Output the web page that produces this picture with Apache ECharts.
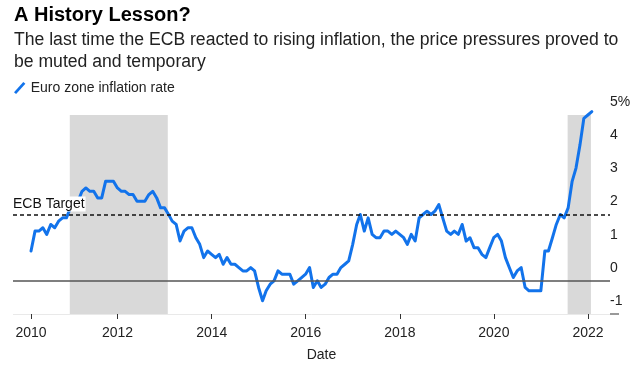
<!DOCTYPE html>
<html>
<head>
<meta charset="utf-8">
<script src="https://cdn.jsdelivr.net/npm/echarts@6/dist/echarts.min.js"></script>
<style>
html,body{margin:0;padding:0;background:#fff;}
#chart{width:636px;height:367px;}
</style>
</head>
<body>
<div id="chart"></div>
<script>
// ---- data ----
const seriesName = 'Euro zone inflation rate';
const startYear = 2010, startMonth = 1; // Feb 2010 (0-based month)
const inflation = [
  0.9, 1.5, 1.5, 1.6, 1.4, 1.7, 1.6, 1.8, 1.9, 1.9, 2.2,
  2.3, 2.4, 2.7, 2.8, 2.7, 2.7, 2.5, 2.5, 3.0, 3.0, 3.0, 2.8,
  2.7, 2.7, 2.6, 2.6, 2.4, 2.4, 2.4, 2.6, 2.7, 2.5, 2.2, 2.2,
  2.0, 1.8, 1.7, 1.2, 1.5, 1.6, 1.6, 1.3, 1.1, 0.7, 0.9, 0.8,
  0.7, 0.8, 0.5, 0.7, 0.5, 0.5, 0.4, 0.3, 0.3, 0.4, 0.3, -0.2,
  -0.6, -0.3, -0.1, 0.0, 0.3, 0.2, 0.2, 0.2, -0.1, 0.0, 0.1, 0.2,
  0.4, -0.2, 0.0, -0.2, -0.1, 0.1, 0.2, 0.2, 0.4, 0.5, 0.6, 1.1,
  1.7, 2.0, 1.5, 1.9, 1.4, 1.3, 1.3, 1.5, 1.5, 1.4, 1.5, 1.4,
  1.3, 1.1, 1.4, 1.2, 1.9, 2.0, 2.1, 2.0, 2.1, 2.3, 1.9, 1.5,
  1.4, 1.5, 1.4, 1.7, 1.2, 1.3, 1.0, 1.0, 0.8, 0.7, 1.0, 1.3,
  1.4, 1.2, 0.7, 0.4, 0.1, 0.3, 0.4, -0.2, -0.3, -0.3, -0.3, -0.3,
  0.9, 0.9, 1.3, 1.7, 2.0, 1.9, 2.2, 3.0, 3.4, 4.1, 4.9, 5.0,
  5.1
];
const shadeRanges = [['2010-12-26', '2013-01-25'], ['2021-07-27', '2022-01-24']];
const ecbTarget = 2;
const ecbLabel = 'ECB Target';
const xTickDates = ['2010-02-28', '2012-01-01', '2014-01-01', '2016-01-01', '2018-01-01', '2020-01-01', '2022-01-01'];
const xTickLabels = ['2010', '2012', '2014', '2016', '2018', '2020', '2022'];
const yTicks = [-1, 0, 1, 2, 3, 4, 5];
const yTickLabels = ['-1', '0', '1', '2', '3', '4', '5%'];
const xRange = ['2009-10-11', '2022-06-21'];

// ---- build ----
const ts = s => Date.parse(s + 'T00:00:00Z');
const monthEnd = i => Date.UTC(startYear, startMonth + i + 1, 0);
const lineData = inflation.map((v, i) => [monthEnd(i), v]);
const xTicks = xTickDates.map(ts);
const FONT = '"Liberation Sans", Arial, Helvetica, sans-serif';

const chart = echarts.init(document.getElementById('chart'), null, {renderer: 'canvas'});
chart.setOption({
  animation: false,
  backgroundColor: '#fff',
  textStyle: {fontFamily: FONT},
  title: {
    text: 'A History Lesson?',
    subtext: 'The last time the ECB reacted to rising inflation, the price pressures proved to\nbe muted and temporary',
    left: 9, top: 0,
    itemGap: 4,
    textStyle: {fontFamily: FONT, fontSize: 20, fontWeight: 'bold', color: '#000'},
    subtextStyle: {fontFamily: FONT, fontSize: 17.6, color: '#222', lineHeight: 22}
  },
  legend: {
    left: 9, top: 76,
    itemWidth: 12, itemHeight: 12, itemGap: 10,
    icon: 'path://M0,10 L9,0 L11,1.6 L2,11.6 Z',
    textStyle: {fontFamily: FONT, fontSize: 14, color: '#222'},
    data: [{name: seriesName, itemStyle: {color: '#1273eb'}}]
  },
  grid: {left: 13, right: 26, top: 115, bottom: 53, containLabel: false},
  xAxis: {
    type: 'value',
    min: ts(xRange[0]), max: ts(xRange[1]),
    name: 'Date', nameLocation: 'middle', nameGap: 34,
    nameTextStyle: {fontFamily: FONT, fontSize: 14, color: '#222', padding: [0, 0, 0, 20]},
    axisLine: {show: false, onZero: false},
    axisTick: {show: true, length: 5, inside: false, lineStyle: {color: '#333', width: 1}, customValues: xTicks},
    axisLabel: {
      customValues: xTicks, margin: 12, fontSize: 14, color: '#222', fontFamily: FONT,
      formatter: v => { const i = xTicks.indexOf(v); return i >= 0 ? xTickLabels[i] : ''; }
    },
    splitLine: {show: false}
  },
  yAxis: {
    type: 'value', position: 'right', min: -1, max: 5, interval: 1,
    axisLine: {show: false, onZero: false},
    axisTick: {show: true, customValues: [yTicks[0]], length: 9, lineStyle: {color: '#999', width: 2}},
    axisLabel: {
      margin: 0, fontSize: 14, color: '#222', fontFamily: FONT, align: 'left',
      verticalAlign: 'bottom', padding: [0, 0, 6, 0],
      formatter: v => { const i = yTicks.indexOf(v); return i >= 0 ? yTickLabels[i] : String(v); }
    },
    splitLine: {show: true, lineStyle: {color: '#e9e9e9', width: 1}}
  },
  series: [
    {
      type: 'line', data: [], z: 1, silent: true,
      markArea: {
        silent: true,
        itemStyle: {color: '#d9d9d9'},
        data: shadeRanges.map(r => [{xAxis: ts(r[0])}, {xAxis: ts(r[1])}])
      }
    },
    {
      type: 'line', data: [], z: 2, silent: true,
      markLine: {
        silent: true, symbol: 'none', animation: false,
        label: {show: false},
        data: [
          {yAxis: 0, lineStyle: {color: '#555', width: 1.5, type: 'solid'}},
          {yAxis: ecbTarget, lineStyle: {color: '#111', width: 1.5, type: [4, 3]}}
        ]
      }
    },
    {
      name: seriesName, type: 'line', data: lineData, z: 3,
      showSymbol: false, symbol: 'none', clip: false, smooth: false,
      lineStyle: {color: '#1273eb', width: 3, join: 'round', cap: 'round'},
      itemStyle: {color: '#1273eb'}
    },
    {
      type: 'line', data: [], z: 10, silent: true,
      markLine: {
        silent: true, symbol: 'none', animation: false,
        lineStyle: {color: 'rgba(0,0,0,0)', width: 0},
        label: {
          show: true, position: 'insideStartTop', distance: [0, 3],
          formatter: ecbLabel, fontFamily: FONT, fontSize: 14, color: '#111',
          backgroundColor: '#fff', padding: [1, 1, 0, 0]
        },
        data: [{yAxis: ecbTarget}]
      }
    }
  ]
});
</script>
</body>
</html>
